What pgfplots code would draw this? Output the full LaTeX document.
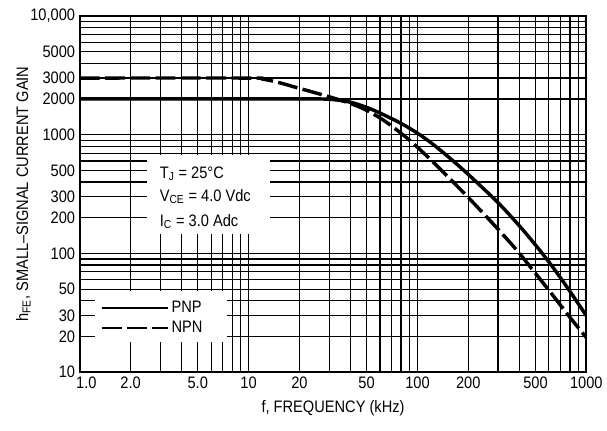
\documentclass[border=0pt]{standalone}
\usepackage{fontspec}
\setmainfont{Liberation Sans}[FakeStretch=0.88]
\usepackage{pgfplots}
\pgfplotsset{compat=1.18}
\begin{document}
\begin{tikzpicture}
\begin{axis}[
  xmode=log, ymode=log,
  scale only axis, width=381pt, height=268pt,
  xmin=1, xmax=1000, ymin=10, ymax=10000,
  xtick={1,2,3,4,5,6,7,8,9,10,20,30,40,50,60,70,80,90,100,200,300,400,500,600,700,800,900,1000},
  xticklabels={\kern10pt1.0,2.0,,,5.0,,,,,10,20,,,50,,,,,100,200,,,500,,,,,1000},
  ytick={10,20,30,40,50,60,70,80,90,100,200,300,400,500,600,700,800,900,1000,2000,3000,4000,5000,6000,7000,8000,9000,10000},
  yticklabels={10,20,30,,50,,,,,100,200,300,,500,,,,,1000,2000,3000,,5000,,,,,{10,000}},
  grid=major, major grid style={black, line width=0.9pt},
  major tick length=0pt,
  axis line style={line width=1.3pt},
  tick label style={font=\fontsize{12.5}{14}\selectfont},
  label style={font=\fontsize{12.5}{14}\selectfont},
  xlabel={f, FREQUENCY (kHz)},
  ylabel={h\textsubscript{FE}, SMALL--SIGNAL CURRENT GAIN},
  xlabel style={yshift=-2pt},
  ylabel shift=-7pt,
  legend style={at={(0.035,0.09)}, anchor=south west, draw=none, fill=white,
    font=\fontsize{12.5}{14}\selectfont, row sep=1pt, inner sep=2pt},
  legend cell align=left,
  legend image code/.code={\draw[#1, line width=1.8pt] (0cm,0cm) -- (1.75cm,0cm);},
]
\fill[white] (axis cs:2.5,145) rectangle (axis cs:13.3,680);
\fill[white] (axis cs:1.226,17.9) rectangle (axis cs:7.4,48);
\addplot[black, line width=2.6pt, smooth, line join=round] coordinates {
 (1,2000) (10,2000) (20,2000) (30,1990) (40,1879) (50,1699) (60,1522) (80,1245) (100,1030)
 (120,858) (150,664) (200,463) (300,268) (400,172) (500,118) (600,85) (700,63) (800,48) (1000,30)
};
\addlegendentry{PNP}
\addplot[black, line width=2.6pt, smooth, line join=round, dash pattern=on 15pt off 4pt] coordinates {
 (1,3000) (10,3000) (12,2946) (15,2756) (20,2456) (30,2088) (40,1835) (50,1605) (65,1284)
 (89,909) (117,636) (150,449) (200,296) (264,195) (333,136) (400,101) (500,68) (622,46) (800,29) (1000,19.6)
};
\addlegendentry{NPN}
\node[anchor=west, font=\fontsize{12.5}{14}\selectfont, inner sep=0pt] at (axis cs:2.97,470) {T\textsubscript{J} = 25°C};
\node[anchor=west, font=\fontsize{12.5}{14}\selectfont, inner sep=0pt] at (axis cs:2.97,301) {V\textsubscript{CE} = 4.0 Vdc};
\node[anchor=west, font=\fontsize{12.5}{14}\selectfont, inner sep=0pt] at (axis cs:2.97,186) {I\textsubscript{C} = 3.0 Adc};
\end{axis}
\path ([shift={(-60pt,-44pt)}]current axis.south west) rectangle ([shift={(14pt,12pt)}]current axis.north east);
\end{tikzpicture}
\end{document}
